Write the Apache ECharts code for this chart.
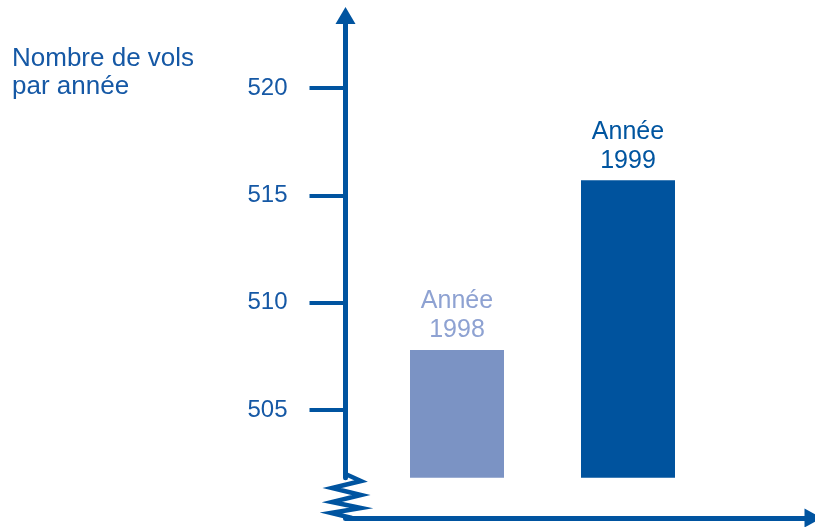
<!DOCTYPE html>
<html>
<head>
<meta charset="utf-8">
<script src="https://cdn.jsdelivr.net/npm/echarts@6/dist/echarts.min.js"></script>
<style>
  html, body { margin: 0; padding: 0; background: #fff; }
  #chart { width: 815px; height: 527px; }
</style>
</head>
<body>
<div id="chart"></div>
<script>
// données
const years = ['1998', '1999']
const flights = [507.8, 515.7]
const yTicks = [505, 510, 515, 520]
const barColors = ['#7b93c4', '#00539e']
const labelColors = ['#8ea2d2', '#0055a0']

const axisColor = '#0054a0'
const textColor = '#1558a5'
const font = 'Liberation Sans, Arial, Helvetica, sans-serif'

// échelle commune aux deux grilles
const yMin = 501.85
const yMax = 523.38

const chart = echarts.init(document.getElementById('chart'))

const option = {
  animation: false,
  title: {
    text: 'Nombre de vols\npar année',
    left: 12,
    top: 45,
    padding: 0,
    textStyle: {
      color: textColor,
      fontFamily: font,
      fontSize: 26,
      fontWeight: 'normal',
      lineHeight: 28
    }
  },
  grid: [
    // grille des axes visibles
    { left: 345.5, right: 2, top: 15.5, bottom: 49.3 },
    // grille des barres
    { left: 371.5, right: 101.5, top: 15.5, bottom: 49.3 }
  ],
  xAxis: [
    {
      gridIndex: 0,
      type: 'value',
      min: 0,
      max: 1,
      offset: 40.3,
      axisLine: {
        show: true,
        symbol: ['none', 'triangle'],
        symbolSize: [19, 17],
        lineStyle: { color: axisColor, width: 5 }
      },
      axisTick: { show: false },
      axisLabel: { show: false },
      splitLine: { show: false }
    },
    {
      gridIndex: 1,
      type: 'category',
      data: years,
      show: false
    }
  ],
  yAxis: [
    {
      gridIndex: 0,
      type: 'value',
      min: yMin,
      max: yMax,
      axisLine: {
        show: true,
        symbol: ['none', 'triangle'],
        symbolSize: [20, 17],
        lineStyle: { color: axisColor, width: 5 }
      },
      axisTick: {
        show: true,
        length: 36,
        customValues: yTicks,
        lineStyle: { color: axisColor, width: 4 }
      },
      axisLabel: {
        customValues: yTicks,
        margin: 58,
        color: textColor,
        fontFamily: font,
        fontSize: 24
      },
      splitLine: { show: false }
    },
    {
      gridIndex: 1,
      type: 'value',
      min: yMin,
      max: yMax,
      show: false,
      splitLine: { show: false }
    }
  ],
  graphic: [
    {
      // cassure de l'axe
      type: 'polyline',
      shape: {
        points: [[345.5, 474], [361, 481], [332, 488], [361, 495], [332, 502], [361, 508], [331, 513], [352, 518]]
      },
      style: { stroke: axisColor, lineWidth: 4.5, fill: null, lineJoin: 'miter' },
      z: 10
    }
  ],
  series: [
    {
      type: 'bar',
      xAxisIndex: 1,
      yAxisIndex: 1,
      barWidth: 94,
      data: flights.map((v, i) => ({
        value: v,
        itemStyle: { color: barColors[i] },
        label: { color: labelColors[i] }
      })),
      label: {
        show: true,
        position: 'top',
        distance: 5,
        formatter: 'Année\n{b}',
        fontFamily: font,
        fontSize: 25,
        lineHeight: 29
      }
    }
  ]
}

chart.setOption(option)
</script>
</body>
</html>
